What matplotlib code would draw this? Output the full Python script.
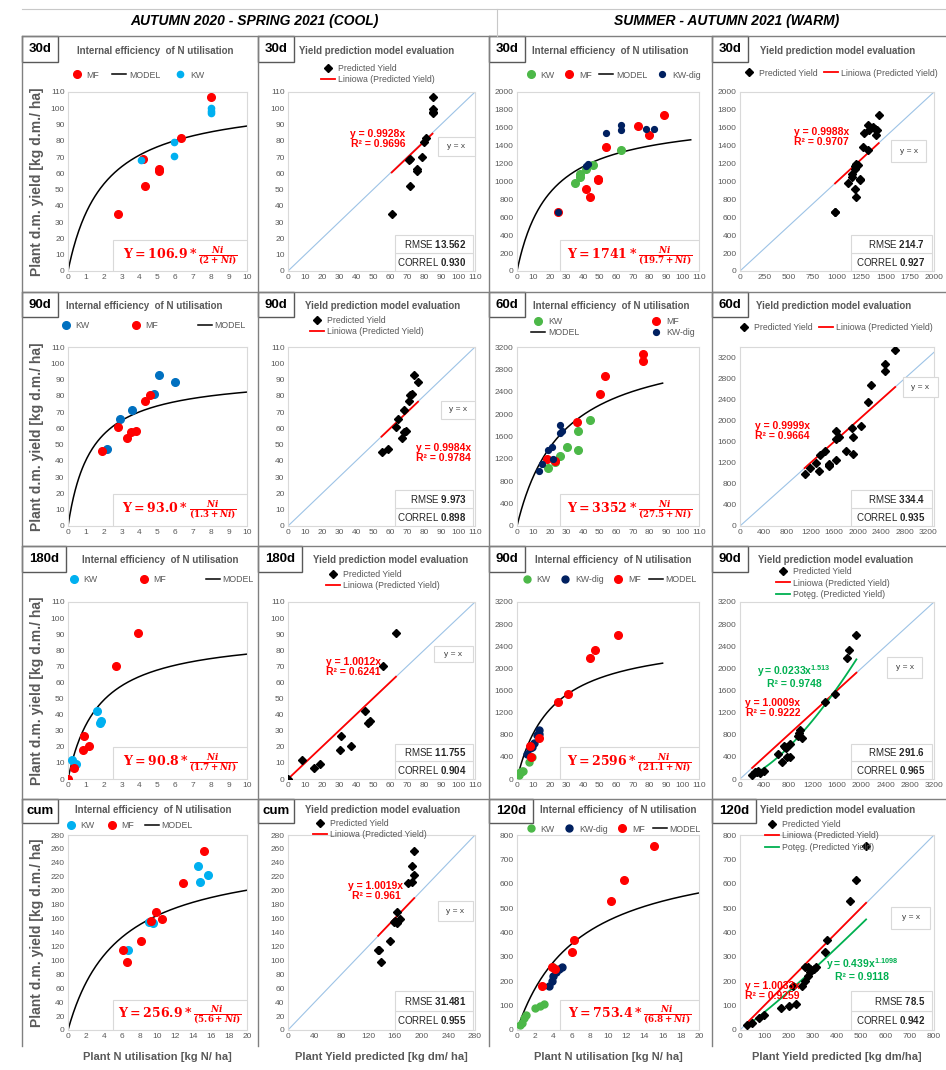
import numpy as np
import matplotlib.pyplot as plt
from matplotlib.patches import Rectangle

W, H = 946, 1070

# ---------------- AUTUMN 2020 - SPRING 2021 (COOL) ----------------
# 30d
c30_mf_n = [2.8, 4.2, 4.3, 5.1, 5.1, 6.3, 8.0]
c30_mf_y = [35, 69, 52.5, 62.5, 61.5, 81.5, 107]
c30_kw_n = [4.1, 5.9, 5.9, 8.0, 8.0, 8.0]
c30_kw_y = [68.5, 79.5, 70.5, 100, 98.5, 97]
c30_model = (106.9, 2.0)
c30_pred_x = [61, 71, 71.5, 72, 76, 76, 79, 80, 81, 85, 85, 85, 85]
c30_pred_y = [35, 68, 69, 52.5, 62.5, 61.5, 70, 79.5, 81.5, 107, 99.5, 98, 97]
c30_lin = ('0.9928', '0.9696')
c30_stats = ('13.562', '0.930')

# 90d
c90_kw_n = [2.2, 2.9, 3.6, 4.8, 5.1, 6.0]
c90_kw_y = [47.5, 66, 71.5, 81, 93, 88.5]
c90_mf_n = [1.9, 2.8, 3.3, 3.5, 3.8, 4.3, 4.6]
c90_mf_y = [46, 61, 54, 58, 58.5, 77, 80.5]
c90_model = (93.0, 1.3)
c90_pred_x = [55, 59, 63.5, 64.5, 67, 68, 69.5, 68, 71, 72, 73, 74, 76.5]
c90_pred_y = [45.5, 47.5, 61, 66, 54, 58, 58.5, 71.5, 77, 80.5, 81, 93, 88.5]
c90_lin = ('0.9984', '0.9784')
c90_stats = ('9.973', '0.898')

# 180d
c180_kw_n = [0.2, 0.45, 1.6, 1.8, 1.85]
c180_kw_y = [11.5, 9.5, 42, 34.5, 36]
c180_mf_n = [0.0, 0.35, 0.85, 0.9, 1.2, 2.7, 3.9]
c180_mf_y = [0, 7, 18, 27, 20.5, 70, 91]
c180_model = (90.8, 1.7)
c180_pred_x = [0, 8.5, 15.5, 19, 30.5, 31, 37, 45, 47, 48, 56, 63.5]
c180_pred_y = [0, 11.5, 7, 9.5, 18, 27, 20.5, 42, 34.5, 36, 70, 91]
c180_lin = ('1.0012', '0.6241')
c180_stats = ('11.755', '0.904')

# cum
ccum_kw_n = [6.7, 9.0, 9.5, 14.5, 14.8, 15.6]
ccum_kw_y = [115, 155, 153, 235, 213, 223]
ccum_mf_n = [6.2, 6.6, 8.2, 9.3, 9.8, 10.5, 12.8, 15.2]
ccum_mf_y = [115, 97, 128, 157, 170, 160, 211, 257]
ccum_model = (256.9, 5.6)
ccum_pred_x = [135, 137, 139, 153, 158, 160, 163, 163, 168, 179, 185, 186, 189, 188]
ccum_pred_y = [115, 115, 97, 128, 155, 157, 153, 170, 160, 211, 235, 213, 223, 257]
ccum_lin = ('1.0019', '0.961')
ccum_stats = ('31.481', '0.955')

# ---------------- SUMMER - AUTUMN 2021 (WARM) ----------------
# 30d
w30_kw_n = [35, 38, 38, 42, 46, 63]
w30_kw_y = [980, 1050, 1080, 1140, 1180, 1350]
w30_mf_n = [25, 42, 44, 49, 49, 54, 73, 80, 89]
w30_mf_y = [660, 920, 830, 1030, 1020, 1380, 1620, 1520, 1740]
w30_dig_n = [25, 42, 43, 54, 63, 63, 78, 83]
w30_dig_y = [660, 1170, 1190, 1540, 1630, 1570, 1590, 1590]
w30_model = (1741, 19.7)
w30_pred_x = [980, 980, 1110, 1150, 1150, 1190, 1220, 1320, 1190, 1200, 1240, 1240,
              1270, 1370, 1400, 1430, 1185, 1195, 1275, 1320, 1330, 1390, 1410]
w30_pred_y = [660, 660, 980, 1050, 1080, 1140, 1180, 1350, 920, 830, 1030, 1020,
              1380, 1610, 1520, 1740, 1170, 1190, 1540, 1630, 1570, 1590, 1580]
w30_lin = ('0.9988', '0.9707')
w30_stats = ('214.7', '0.927')

# 60d
w60_kw_n = [19, 23, 26, 30, 37, 37, 44]
w60_kw_y = [1040, 1150, 1250, 1420, 1350, 1700, 1890]
w60_mf_n = [18, 23, 36, 50, 53, 76, 76, 88]
w60_mf_y = [1200, 1160, 1860, 2360, 2680, 2950, 3080, 3350]
w60_dig_n = [13, 15, 19, 21, 22, 26, 27, 26]
w60_dig_y = [980, 1100, 1360, 1410, 1200, 1660, 1700, 1800]
w60_model = (3352, 27.5)
w60_pred_x = [1100, 1190, 1300, 1350, 1360, 1450, 1520, 1520, 1510, 1630, 1680, 1630,
              1640, 1800, 1900, 1920, 1920, 2060, 2180, 2230, 2470, 2470, 2640]
w60_pred_y = [980, 1100, 1200, 1040, 1340, 1420, 1160, 1140, 1170, 1660, 1700, 1800,
              1250, 1420, 1860, 1360, 1700, 1890, 2360, 2680, 2950, 3080, 3350]
w60_lin = ('0.9999', '0.9664')
w60_stats = ('334.4', '0.935')

# 90d
w90_kw_n = [1.2, 2.0, 2.5, 2.8, 3.5, 7.0, 9.0]
w90_kw_y = [80, 120, 130, 150, 150, 300, 400]
w90_dig_n = [6, 8, 9, 10, 12, 13, 13]
w90_dig_y = [450, 560, 580, 650, 790, 880, 820]
w90_mf_n = [8, 8.5, 13.5, 25, 31, 44, 47, 61]
w90_mf_y = [600, 400, 750, 1400, 1530, 2180, 2330, 2610]
w90_model = (2596, 21.1)
w90_pred_x = [200, 250, 280, 300, 330, 400, 620, 700, 720, 740, 760, 780, 820, 820,
              960, 980, 990, 1020, 1400, 1560, 1760, 1790, 1920]
w90_pred_y = [80, 120, 130, 150, 100, 150, 450, 300, 600, 580, 560, 400, 400, 640,
              780, 830, 880, 750, 1400, 1530, 2180, 2330, 2610]
w90_lin = ('1.0009', '0.9222')
w90_pow = ('0.0233', '1.513', '0.9748')
w90_stats = ('291.6', '0.965')

# 120d
w120_kw_n = [0.3, 0.5, 0.8, 1.0, 2.0, 2.5, 3.0, 4.0]
w120_kw_y = [20, 30, 50, 60, 90, 100, 105, 260]
w120_dig_n = [3.5, 3.8, 4.0, 4.3, 4.6, 4.9]
w120_dig_y = [180, 200, 220, 240, 250, 260]
w120_mf_n = [2.8, 3.8, 4.2, 6.0, 6.3, 10.3, 11.8, 15.0]
w120_mf_y = [180, 260, 250, 320, 370, 530, 615, 755]
w120_model = (753.4, 6.8)
w120_pred_x = [30, 50, 80, 100, 170, 200, 230, 280, 255, 270, 280, 290, 305, 315,
               220, 270, 290, 350, 360, 455, 480, 520]
w120_pred_y = [20, 30, 50, 60, 90, 100, 105, 260, 180, 200, 220, 240, 250, 260,
               180, 260, 250, 320, 370, 530, 615, 755]
w120_lin = ('1.0033', '0.9259')
w120_pow = ('0.439', '1.1098', '0.9118')
w120_stats = ('78.5', '0.942')

row_labels = [['30d', '30d', '30d', '30d'], ['90d', '90d', '60d', '60d'],
              ['180d', '180d', '90d', '90d'], ['cum', 'cum', '120d', '120d']]

# ---------------- styling ----------------
plt.rcParams['font.family'] = ['Liberation Sans', 'DejaVu Sans']
plt.rcParams['mathtext.fontset'] = 'custom'
plt.rcParams['mathtext.rm'] = 'DejaVu Serif:bold'
plt.rcParams['mathtext.it'] = 'DejaVu Serif:italic:bold'
plt.rcParams['mathtext.bf'] = 'DejaVu Serif:bold'
plt.rcParams['mathtext.sf'] = 'Liberation Sans:bold'

GREY = '#595959'
RED = '#FF0000'
CYAN = '#00B0F0'
BLUE = '#0070C0'
GREEN = '#4CB848'
NAVY = '#002060'
PGREEN = '#00B050'
DIAG = '#9DC3E6'
FRAME = '#D9D9D9'

ROW_Y = [(92, 271), (347, 526), (602, 779), (835, 1030)]
COL_X = [(68, 247), (288, 475), (517, 699), (740, 934)]

fig = plt.figure(figsize=(W / 100, H / 100), dpi=100)
bg = fig.add_axes([0, 0, 1, 1], zorder=-1)
bg.set_xlim(0, W)
bg.set_ylim(H, 0)
bg.axis('off')


def px_axes(r, c):
    x0, x1 = COL_X[c]
    y0, y1 = ROW_Y[r]
    return fig.add_axes([x0 / W, 1 - y1 / H, (x1 - x0) / W, (y1 - y0) / H])


def style(ax, xlim, ylim, xt, yt):
    ax.set_xlim(xlim)
    ax.set_ylim(ylim)
    ax.set_xticks(xt)
    ax.set_yticks(yt)
    ax.tick_params(length=0, labelsize=6, labelcolor=GREY, pad=2.5)
    for s in ax.spines.values():
        s.set_color(FRAME)
        s.set_linewidth(0.8)


def legend_px(ax, handles, cx, cy, ncol, colsp=0.8):
    ax.legend(handles=handles, loc='center', bbox_to_anchor=(cx / W, 1 - cy / H),
              bbox_transform=fig.transFigure, ncol=ncol, frameon=False, fontsize=6.3,
              labelcolor=GREY, handlelength=1.6, handletextpad=0.3,
              columnspacing=colsp, borderpad=0, labelspacing=0.25)


def model_panel(ax, groups, model, xend, order, leg, box_x0, box_h=0.175):
    hs = {}
    for name, n, y, col, ms in groups:
        h, = ax.plot(n, y, 'o', color=col, ms=ms, ls='none', label=name, zorder=3)
        hs[name] = h
    a, b = model
    xs = np.linspace(0, xend, 200)
    h, = ax.plot(xs, a * xs / (b + xs), color='black', lw=1.1, label='MODEL', zorder=2)
    hs['MODEL'] = h
    legend_px(ax, [hs[k] for k in order], *leg)
    ax.add_patch(Rectangle((box_x0, 0), 1 - box_x0, box_h, transform=ax.transAxes,
                           fc='white', ec=FRAME, lw=0.8, zorder=4))
    a_txt = ('%.1f' % a) if a < 1000 else '%d' % a
    b_txt = ('%g' % b)
    formula = r'$\mathrm{Y} = ' + a_txt + r' * \frac{Ni}{(' + b_txt + r'+Ni)}$'
    ax.text((box_x0 + 1) / 2, box_h / 2, formula, transform=ax.transAxes, ha='center',
            va='center', color=RED, fontsize=9, zorder=5)


def eval_panel(ax, px_, py_, lin, lin_pos, stats, yx_box, leg, power=None, pow_pos=None):
    top = max(ax.get_xlim()[1], ax.get_ylim()[1])
    ax.plot([0, top], [0, top], color=DIAG, lw=0.8, zorder=1)
    hs = []
    h, = ax.plot(px_, py_, 'D', color='black', ms=3.9, ls='none', label='Predicted Yield', zorder=4)
    hs.append(h)
    xs = np.array([min(px_), max(px_)])
    h, = ax.plot(xs, float(lin[0]) * xs, color=RED, lw=1.3,
                 label='Liniowa (Predicted Yield)', zorder=3)
    hs.append(h)
    ha = lin_pos[2] if len(lin_pos) > 2 else 'center'
    ax.text(lin_pos[0], lin_pos[1], 'y = %sx\nR² = %s' % lin, transform=ax.transAxes,
            ha=ha, va='center', multialignment='center', color=RED, fontsize=7.5,
            fontweight='bold', zorder=5, linespacing=1.0)
    if power is not None:
        c, p, r2 = power
        xp = np.linspace(min(px_), max(px_), 100)
        h, = ax.plot(xp, float(c) * xp ** float(p), color=PGREEN, lw=1.3,
                     label='Potęg. (Predicted Yield)', zorder=3)
        hs.append(h)
        ax.text(pow_pos[0], pow_pos[1], r'$\mathsf{y = ' + c + 'x^{' + p + '}}$\nR² = ' + r2,
                transform=ax.transAxes, ha='center', va='center', multialignment='center',
                color=PGREEN, fontsize=7.5, fontweight='bold', zorder=5, linespacing=1.0)
    legend_px(ax, hs, *leg)
    # y = x label box
    x0, y0, x1, y1 = yx_box
    ax.add_patch(Rectangle((x0, y0), x1 - x0, y1 - y0, transform=ax.transAxes, fc='white',
                           ec=FRAME, lw=0.8, zorder=5, clip_on=False))
    ax.text((x0 + x1) / 2, (y0 + y1) / 2, 'y = x', transform=ax.transAxes, ha='center',
            va='center', fontsize=6, color='#404040', zorder=6)
    # RMSE / CORREL boxes
    for i, (name, val) in enumerate([('CORREL', stats[1]), ('RMSE', stats[0])]):
        ax.add_patch(Rectangle((0.57, 0.1 * i), 0.42, 0.1, transform=ax.transAxes,
                               fc='white', ec=FRAME, lw=0.8, zorder=5))
        ax.text(0.955, 0.1 * i + 0.05, name + r' $\mathsf{' + val + '}$', transform=ax.transAxes,
                ha='right', va='center', fontsize=7, color='#262626', zorder=6)


# ---------------- table frame ----------------
for y in [36, 292, 546, 799]:
    bg.plot([22, 946], [y, y], color='#808080', lw=1)
for x in [22, 258, 489, 712]:
    bg.plot([x, x], [36, 1046], color='#808080', lw=1)
bg.plot([22, 946], [9, 9], color='#C8C8C8', lw=0.8)
bg.plot([497, 497], [9, 36], color='#C8C8C8', lw=0.8)
bg.text(254, 21, 'AUTUMN 2020 - SPRING 2021 (COOL)', ha='center', va='center',
        fontsize=10, fontweight='bold', fontstyle='italic')
bg.text(727, 21, 'SUMMER - AUTUMN 2021 (WARM)', ha='center', va='center',
        fontsize=10, fontweight='bold', fontstyle='italic')

BOX_ROWS = [(36, 62), (292, 317), (546, 572), (799, 823)]
BOX_COLS = [22, 258, 489, 712]
TITLE_Y = [51, 306, 560, 810]
TITLE_X = [[77, 299, 532, 760], [66, 305, 533, 756], [82, 313, 535, 758], [75, 305, 540, 760]]
titles = ['Internal efficiency  of N utilisation', 'Yield prediction model evaluation'] * 2
for r in range(4):
    y0, y1 = BOX_ROWS[r]
    for c in range(4):
        lab = row_labels[r][c]
        w = 12 + 8 * len(lab)
        bg.add_patch(Rectangle((BOX_COLS[c], y0), w, y1 - y0, fc='white', ec='#595959', lw=1))
        bg.text(BOX_COLS[c] + w / 2, (y0 + y1) / 2, lab, ha='center', va='center',
                fontsize=9.5, fontweight='bold')
        bg.text(TITLE_X[r][c], TITLE_Y[r], titles[c], ha='left', va='center',
                fontsize=7, fontweight='bold', color=GREY)
    bg.text(37, sum(ROW_Y[r]) / 2, 'Plant d.m. yield [kg d.m./ ha]', rotation=90,
            ha='center', va='center', fontsize=10, fontweight='bold', color=GREY)

xlabels = ['Plant N utilisation [kg N/ ha]', 'Plant Yield predicted [kg dm/ ha]',
           'Plant N utilisation [kg N/ ha]', 'Plant Yield predicted [kg dm/ha]']
for c, lab in enumerate(xlabels):
    bg.text(sum(COL_X[c]) / 2, 1057, lab, ha='center', va='center', fontsize=8,
            fontweight='bold', color=GREY)

# ---------------- row 1 ----------------
ax = px_axes(0, 0)
style(ax, (0, 10), (0, 110), range(0, 11), range(0, 111, 10))
model_panel(ax, [('MF', c30_mf_n, c30_mf_y, RED, 5.5), ('KW', c30_kw_n, c30_kw_y, CYAN, 4.5)],
            c30_model, 10, ['MF', 'MODEL', 'KW'], (137, 75, 3, 1.5), 0.25)

ax = px_axes(0, 1)
style(ax, (0, 110), (0, 110), range(0, 111, 10), range(0, 111, 10))
eval_panel(ax, c30_pred_x, c30_pred_y, c30_lin, (0.48, 0.74), c30_stats,
           (0.80, 0.64, 1.0, 0.75), (378, 74, 1))

ax = px_axes(0, 2)
style(ax, (0, 110), (0, 2000), range(0, 111, 10), range(0, 2001, 200))
model_panel(ax, [('KW', w30_kw_n, w30_kw_y, GREEN, 5.5), ('MF', w30_mf_n, w30_mf_y, RED, 5.5),
                 ('KW-dig', w30_dig_n, w30_dig_y, NAVY, 4.2)],
            w30_model, 105, ['KW', 'MF', 'MODEL', 'KW-dig'], (612, 75, 4, 0.9), 0.236)

ax = px_axes(0, 3)
style(ax, (0, 2000), (0, 2000), range(0, 2001, 250), range(0, 2001, 200))
eval_panel(ax, w30_pred_x, w30_pred_y, w30_lin, (0.42, 0.75), w30_stats,
           (0.78, 0.61, 0.96, 0.73), (840, 73, 2))

# ---------------- row 2 ----------------
ax = px_axes(1, 0)
style(ax, (0, 10), (0, 110), range(0, 11), range(0, 111, 10))
model_panel(ax, [('KW', c90_kw_n, c90_kw_y, BLUE, 5.5), ('MF', c90_mf_n, c90_mf_y, RED, 5.5)],
            c90_model, 10, ['KW', 'MF', 'MODEL'], (152, 326, 3, 4.5), 0.25, 0.18)

ax = px_axes(1, 1)
style(ax, (0, 110), (0, 110), range(0, 111, 10), range(0, 111, 10))
eval_panel(ax, c90_pred_x, c90_pred_y, c90_lin, (0.98, 0.41, 'right'), c90_stats,
           (0.82, 0.60, 1.0, 0.70), (367, 326, 1))

ax = px_axes(1, 2)
style(ax, (0, 110), (0, 3200), range(0, 111, 10), range(0, 3201, 400))
model_panel(ax, [('KW', w60_kw_n, w60_kw_y, GREEN, 5.5), ('MF', w60_mf_n, w60_mf_y, RED, 5.5),
                 ('KW-dig', w60_dig_n, w60_dig_y, NAVY, 4.2)],
            w60_model, 88, ['KW', 'MODEL', 'MF', 'KW-dig'], (613, 327, 2, 8.0), 0.236, 0.18)

ax = px_axes(1, 3)
style(ax, (0, 3300), (0, 3400), range(0, 3201, 400), range(0, 3201, 400))
eval_panel(ax, w60_pred_x, w60_pred_y, w60_lin, (0.22, 0.53), w60_stats,
           (0.84, 0.72, 1.02, 0.83), (835, 328, 2))

# ---------------- row 3 ----------------
ax = px_axes(2, 0)
style(ax, (0, 10), (0, 110), range(0, 11), range(0, 111, 10))
model_panel(ax, [('KW', c180_kw_n, c180_kw_y, CYAN, 5.5), ('MF', c180_mf_n, c180_mf_y, RED, 5.5)],
            c180_model, 10, ['KW', 'MF', 'MODEL'], (160, 580, 3, 4.5), 0.25, 0.18)

ax = px_axes(2, 1)
style(ax, (0, 110), (0, 110), range(0, 111, 10), range(0, 111, 10))
eval_panel(ax, c180_pred_x, c180_pred_y, c180_lin, (0.35, 0.63), c180_stats,
           (0.78, 0.66, 0.99, 0.75), (383, 580, 1))

ax = px_axes(2, 2)
style(ax, (0, 110), (0, 3200), range(0, 111, 10), range(0, 3201, 400))
model_panel(ax, [('KW', w90_kw_n, w90_kw_y, GREEN, 5.0), ('KW-dig', w90_dig_n, w90_dig_y, NAVY, 5.0),
                 ('MF', w90_mf_n, w90_mf_y, RED, 5.5)],
            w90_model, 88, ['KW', 'KW-dig', 'MF', 'MODEL'], (608, 580, 4, 0.9), 0.236, 0.18)

ax = px_axes(2, 3)
style(ax, (0, 3200), (0, 3200), range(0, 3201, 400), range(0, 3201, 400))
eval_panel(ax, w90_pred_x, w90_pred_y, w90_lin, (0.17, 0.40), w90_stats,
           (0.76, 0.57, 0.94, 0.69), (833, 583, 1), w90_pow, (0.28, 0.58))

# ---------------- row 4 ----------------
ax = px_axes(3, 0)
style(ax, (0, 20), (0, 280), range(0, 21, 2), range(0, 281, 20))
model_panel(ax, [('KW', ccum_kw_n, ccum_kw_y, CYAN, 5.5), ('MF', ccum_mf_n, ccum_mf_y, RED, 5.5)],
            ccum_model, 20, ['KW', 'MF', 'MODEL'], (128, 826, 3, 1.2), 0.25, 0.155)

ax = px_axes(3, 1)
style(ax, (0, 280), (0, 280), range(0, 281, 40), range(0, 281, 20))
eval_panel(ax, ccum_pred_x, ccum_pred_y, ccum_lin, (0.47, 0.715), ccum_stats,
           (0.80, 0.56, 0.99, 0.66), (370, 829, 1))

ax = px_axes(3, 2)
style(ax, (0, 20), (0, 800), range(0, 21, 2), range(0, 801, 100))
model_panel(ax, [('KW', w120_kw_n, w120_kw_y, GREEN, 5.0), ('KW-dig', w120_dig_n, w120_dig_y, NAVY, 5.0),
                 ('MF', w120_mf_n, w120_mf_y, RED, 5.5)],
            w120_model, 20, ['KW', 'KW-dig', 'MF', 'MODEL'], (612, 829, 4, 0.9), 0.236, 0.155)

ax = px_axes(3, 3)
style(ax, (0, 800), (0, 800), range(0, 801, 100), range(0, 801, 100))
eval_panel(ax, w120_pred_x, w120_pred_y, w120_lin, (0.165, 0.2), w120_stats,
           (0.78, 0.52, 0.98, 0.63), (822, 836, 1), w120_pow, (0.63, 0.31))

fig.savefig('out.png', dpi=100)
